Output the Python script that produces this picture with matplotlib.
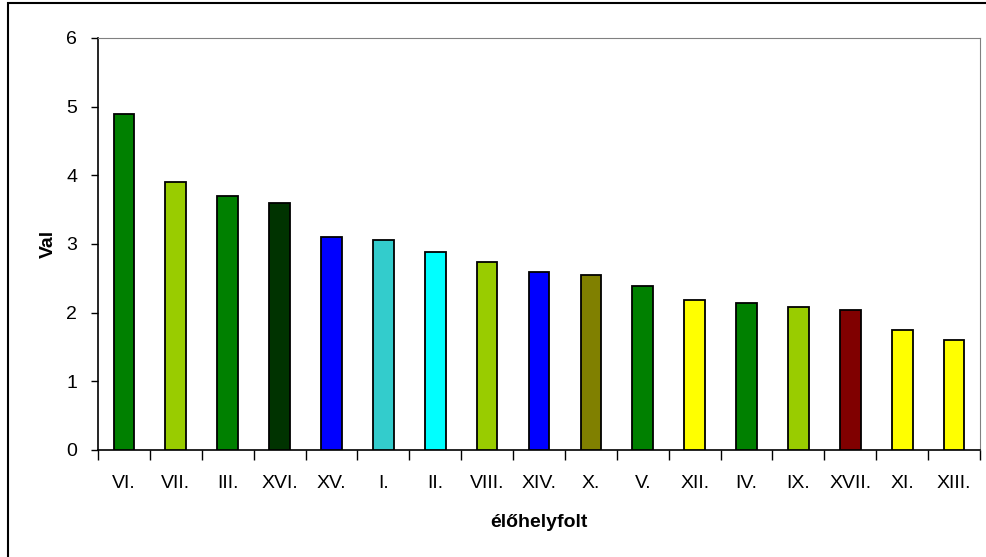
#!/usr/bin/python3

import matplotlib.pyplot as plt
import matplotlib.patches as patches
import numpy as np

plt.rcParams['font.family'] = ['Liberation Sans', 'DejaVu Sans']

# Habitat patches, sorted by value
patch_names = ["VI.", "VII.", "III.", "XVI.", "XV.", "I.", "II.", "VIII.", "XIV.",
               "X.", "V.", "XII.", "IV.", "IX.", "XVII.", "XI.", "XIII."]
values = [4.9, 3.9, 3.7, 3.6, 3.1, 3.06, 2.88, 2.74, 2.59,
          2.55, 2.39, 2.18, 2.14, 2.08, 2.04, 1.75, 1.6]
bar_colors = ["#008000", "#99CC00", "#008000", "#003300", "#0000FF", "#33CCCC",
              "#00FFFF", "#99CC00", "#0000FF", "#808000", "#008000", "#FFFF00",
              "#008000", "#99CC00", "#800000", "#FFFF00", "#FFFF00"]


def main():
    fig = plt.figure(figsize=(9.86, 5.57), dpi=100)
    ax = fig.add_axes([98 / 986, 1 - 450 / 557, (980 - 98) / 986, (450 - 38) / 557])

    x = np.arange(len(values))
    ax.bar(x, values, width=0.4, color=bar_colors, edgecolor="black", linewidth=1.3, zorder=3)

    ax.set_xlim(-0.5, len(values) - 0.5)
    ax.set_ylim(0, 6)
    ax.set_yticks(range(0, 7))

    # Category labels centred, tick marks between categories
    ax.set_xticks(x)
    ax.set_xticklabels(patch_names, fontsize=14)
    ax.tick_params(axis="x", which="major", length=0, pad=18)
    ax.set_xticks(np.arange(-0.5, len(values)), minor=True)
    ax.tick_params(axis="x", which="minor", length=7, width=1, direction="out")
    ax.tick_params(axis="y", length=5, width=1, direction="out", labelsize=14, pad=10)

    for side in ("top", "right"):
        ax.spines[side].set_color("#808080")
    for side in ("left", "bottom"):
        ax.spines[side].set_linewidth(1.2)

    ax.set_ylabel("Val", fontsize=14, fontweight="bold", labelpad=7)
    ax.set_xlabel("élőhelyfolt", fontsize=14, fontweight="bold", labelpad=16)

    # Frame around the whole chart
    fig.patches.append(patches.Rectangle((8 / 986, -0.05), 1.1, 1 - 3 / 557 + 0.05,
                                         transform=fig.transFigure, fill=False,
                                         edgecolor="black", linewidth=1.5))

    fig.savefig("out.png", dpi=100)


if __name__ == "__main__":
    main()
